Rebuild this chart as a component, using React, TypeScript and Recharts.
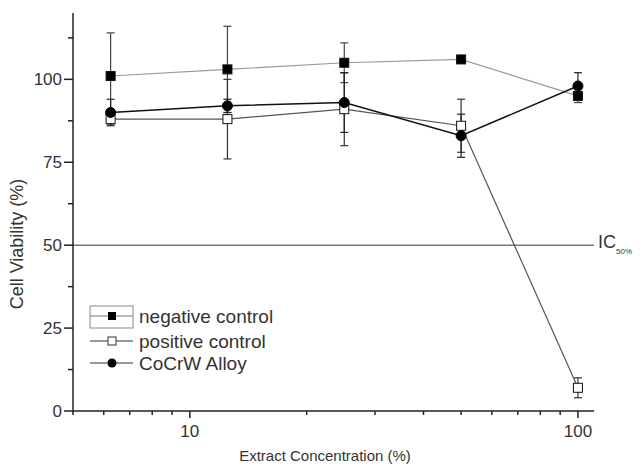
import React from 'react';
import { LineChart, Line, XAxis, YAxis, ErrorBar, ReferenceLine, Legend, Label } from 'recharts';

// extract concentration (%) on a log axis
const concentrations = [6.25, 12.5, 25, 50, 100];

const negativeControl = [101, 103, 105, 106, 95];
const negativeErr = [13, 13, 6, 1, 2];
const positiveControl = [88, 88, 91, 86, 7];
const positiveErr = [1.5, 12, 11, 8, 3];
const alloy = [90, 92, 93, 83, 98];
const alloyErr = [4, 2, 9, 6.5, 4];

const seriesNames = ['negative control', 'positive control', 'CoCrW Alloy'];

const xTicks = [5, 6, 7, 8, 9, 10, 20, 30, 40, 50, 60, 70, 80, 90, 100];
const xLabels = [10, 100];
const yTicks = [0, 12.5, 25, 37.5, 50, 62.5, 75, 87.5, 100, 112.5];
const yLabels = [0, 25, 50, 75, 100];

const data = concentrations.map((c, i) => ({
  conc: c,
  neg: negativeControl[i],
  negErr: negativeErr[i],
  pos: positiveControl[i],
  posErr: positiveErr[i],
  alloy: alloy[i],
  alloyErr: alloyErr[i],
}));

const FONT = '"Liberation Sans", Arial, sans-serif';
const INK = '#333';

const XTick = (props: any) => {
  const { x, y, payload } = props;
  const major = xLabels.includes(payload.value);
  return (
    <g>
      <line x1={x} x2={x} y1={y} y2={y + (major ? 7 : 4)} stroke="#222" strokeWidth={1.5} />
      {major && (
        <text x={x} y={y + 26} textAnchor="middle" fontSize={17} fill={INK} fontFamily={FONT}>
          {payload.value}
        </text>
      )}
    </g>
  );
};

const YTick = (props: any) => {
  const { x, y, payload } = props;
  const major = yLabels.includes(payload.value);
  return (
    <g>
      <line x1={x - (major ? 9 : 5)} x2={x} y1={y} y2={y} stroke="#222" strokeWidth={1.5} />
      {major && (
        <text x={x - 11} y={y} dy="0.35em" textAnchor="end" fontSize={17} fill={INK} fontFamily={FONT}>
          {payload.value}
        </text>
      )}
    </g>
  );
};

const squareDot = (fill: string) => (props: any) => {
  const { cx, cy, index } = props;
  return <rect key={`s-${fill}-${index}`} x={cx - 4.5} y={cy - 4.5} width={9} height={9} fill={fill} stroke="#111" strokeWidth={1} />;
};

const circleDot = (props: any) => {
  const { cx, cy, index } = props;
  return <circle key={`c-${index}`} cx={cx} cy={cy} r={5} fill="#000" stroke="#000" />;
};

// legend drawn in its own little svg, placed over the lower-left of the plot
const LegendBox = () => {
  const rows = [16, 41, 63];
  return (
    <svg width={230} height={80} style={{ display: 'block' }}>
      <rect x={4} y={6} width={43} height={22} fill="none" stroke="#888" strokeWidth={1} />
      {seriesNames.map((name, i) => (
        <g key={name}>
          <line x1={4} x2={47} y1={rows[i]} y2={rows[i]} stroke={i === 0 ? '#777' : '#333'} strokeWidth={1.2} />
          {i === 0 && <rect x={22} y={rows[i] - 4} width={8} height={8} fill="#000" />}
          {i === 1 && <rect x={22} y={rows[i] - 4} width={8} height={8} fill="#fff" stroke="#333" />}
          {i === 2 && <circle cx={26} cy={rows[i]} r={4.5} fill="#000" />}
          <text x={53} y={rows[i]} dy="0.35em" fontSize={19} fill={INK} fontFamily={FONT}>
            {name}
          </text>
        </g>
      ))}
    </svg>
  );
};

const IcLabel = (props: any) => {
  const { viewBox } = props;
  const x = viewBox.x + viewBox.width + 4;
  const y = viewBox.y + 3;
  return (
    <text x={x} y={y} fontSize={18} fill={INK} fontFamily={FONT}>
      IC
      <tspan fontSize={8} dy={6}>50%</tspan>
    </text>
  );
};

const XTitle = (props: any) => {
  const { viewBox } = props;
  return (
    <text x={325} y={viewBox.y + viewBox.height - 5} textAnchor="middle" fontSize={15} fill={INK} fontFamily={FONT}>
      Extract Concentration (%)
    </text>
  );
};

const YTitle = () => (
  <text x={17} y={244} transform="rotate(-90 17 244)" dy="0.35em" textAnchor="middle" fontSize={18} fill={INK} fontFamily={FONT}>
    Cell Viability (%)
  </text>
);

export default function App() {
  return (
    <div style={{ position: 'absolute', left: 0, top: 0, background: '#fff' }}>
      <LineChart width={644} height={466} data={data} margin={{ top: 13, right: 50, left: 0, bottom: 0 }}>
        <XAxis
          dataKey="conc"
          type="number"
          scale="log"
          domain={[5, 110]}
          allowDataOverflow
          ticks={xTicks}
          interval={0}
          tick={<XTick />}
          tickLine={false}
          tickSize={0}
          tickMargin={0}
          height={55}
          axisLine={{ stroke: '#222', strokeWidth: 1.5 }}
        >
          <Label content={<XTitle />} />
        </XAxis>
        <YAxis
          type="number"
          domain={[0, 120]}
          ticks={yTicks}
          interval={0}
          tick={<YTick />}
          tickLine={false}
          tickSize={0}
          tickMargin={0}
          width={73}
          axisLine={{ stroke: '#222', strokeWidth: 1.5 }}
        >
          <Label content={<YTitle />} />
        </YAxis>
        <ReferenceLine y={50} stroke="#777" strokeWidth={1.5} label={<IcLabel />} />
        <Line
          dataKey="neg"
          name={seriesNames[0]}
          stroke="#999"
          strokeWidth={1.2}
          dot={squareDot('#000')}
          isAnimationActive={false}
        >
          <ErrorBar dataKey="negErr" width={4} stroke="#444" strokeWidth={1.2} direction="y" />
        </Line>
        <Line
          dataKey="pos"
          name={seriesNames[1]}
          stroke="#555"
          strokeWidth={1.2}
          dot={squareDot('#fff')}
          isAnimationActive={false}
        >
          <ErrorBar dataKey="posErr" width={4} stroke="#333" strokeWidth={1.2} direction="y" />
        </Line>
        <Line
          dataKey="alloy"
          name={seriesNames[2]}
          stroke="#111"
          strokeWidth={1.5}
          dot={circleDot}
          isAnimationActive={false}
        >
          <ErrorBar dataKey="alloyErr" width={4} stroke="#222" strokeWidth={1.2} direction="y" />
        </Line>
        <Legend
          layout="vertical"
          align="center"
          verticalAlign="middle"
          content={<LegendBox />}
          wrapperStyle={{ position: 'absolute', left: 86, top: 300, width: 230, height: 80 }}
        />
      </LineChart>
    </div>
  );
}
